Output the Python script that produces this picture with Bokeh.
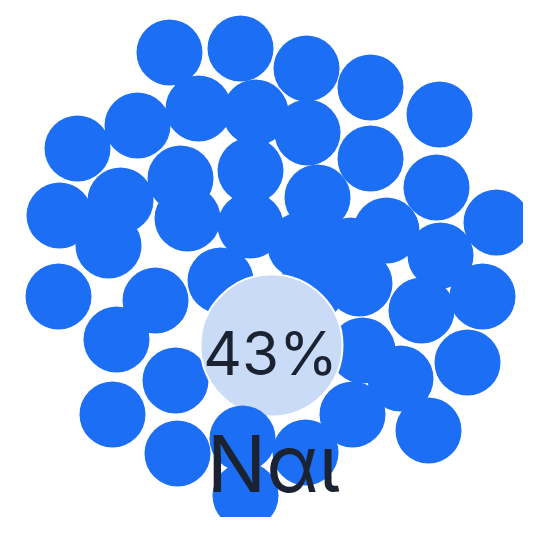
from bokeh.plotting import figure
from bokeh.models import Range1d
from bokeh.embed import file_html
from bokeh.resources import INLINE
from bokeh.core.properties import value

# Bubble positions (image pixel coordinates) for the "dots" of the cluster
dot_x = [169, 240, 306, 370, 439,
         137, 77, 198, 255, 307, 370, 436, 496, 386, 440,
         59, 120, 180, 187, 108, 250, 250, 317, 300, 350,
         58, 155, 116, 175, 112, 177, 245, 305, 352,
         362, 400, 428, 467, 482, 421, 359, 220, 310]
dot_y = [52, 48, 68, 87, 114,
         125, 148, 108, 112, 132, 158, 187, 222, 230, 255,
         215, 200, 178, 218, 245, 170, 225, 197, 245, 250,
         296, 300, 339, 380, 414, 453, 495, 452, 414,
         350, 378, 430, 362, 296, 310, 283, 280, 290]
# dots drawn above the highlighted bubble
front_x = [242]
front_y = [438]

highlight_x = [271]
highlight_y = [345]
pct_label = "43%"
cat_label = "Ναι"

p = figure(width=523, height=517, output_backend="svg", toolbar_location=None,
           x_range=Range1d(0, 523), y_range=Range1d(517, 0),
           min_border=0, outline_line_color=None)
p.axis.visible = False
p.grid.visible = False
p.background_fill_color = "white"
p.border_fill_color = "white"

p.circle(x=dot_x, y=dot_y, radius=33, fill_color="#1c6ef4", line_color=None)
p.circle(x=highlight_x, y=highlight_y, radius=71, fill_color="#c9dbf6",
         line_color="white", line_width=2)
p.circle(x=front_x, y=front_y, radius=33, fill_color="#1c6ef4", line_color=None)
p.text(x=[270], y=[352], text=[pct_label], text_align="center",
       text_baseline="middle", text_font=value("Inter"), text_font_size="60px",
       text_color="#1b2333")
p.text(x=[273], y=[462], text=[cat_label], text_align="center",
       text_baseline="middle", text_font=value("Inter"), text_font_size="79px",
       text_color="#1b2333")

open("out.html", "w").write(file_html(p, INLINE))
